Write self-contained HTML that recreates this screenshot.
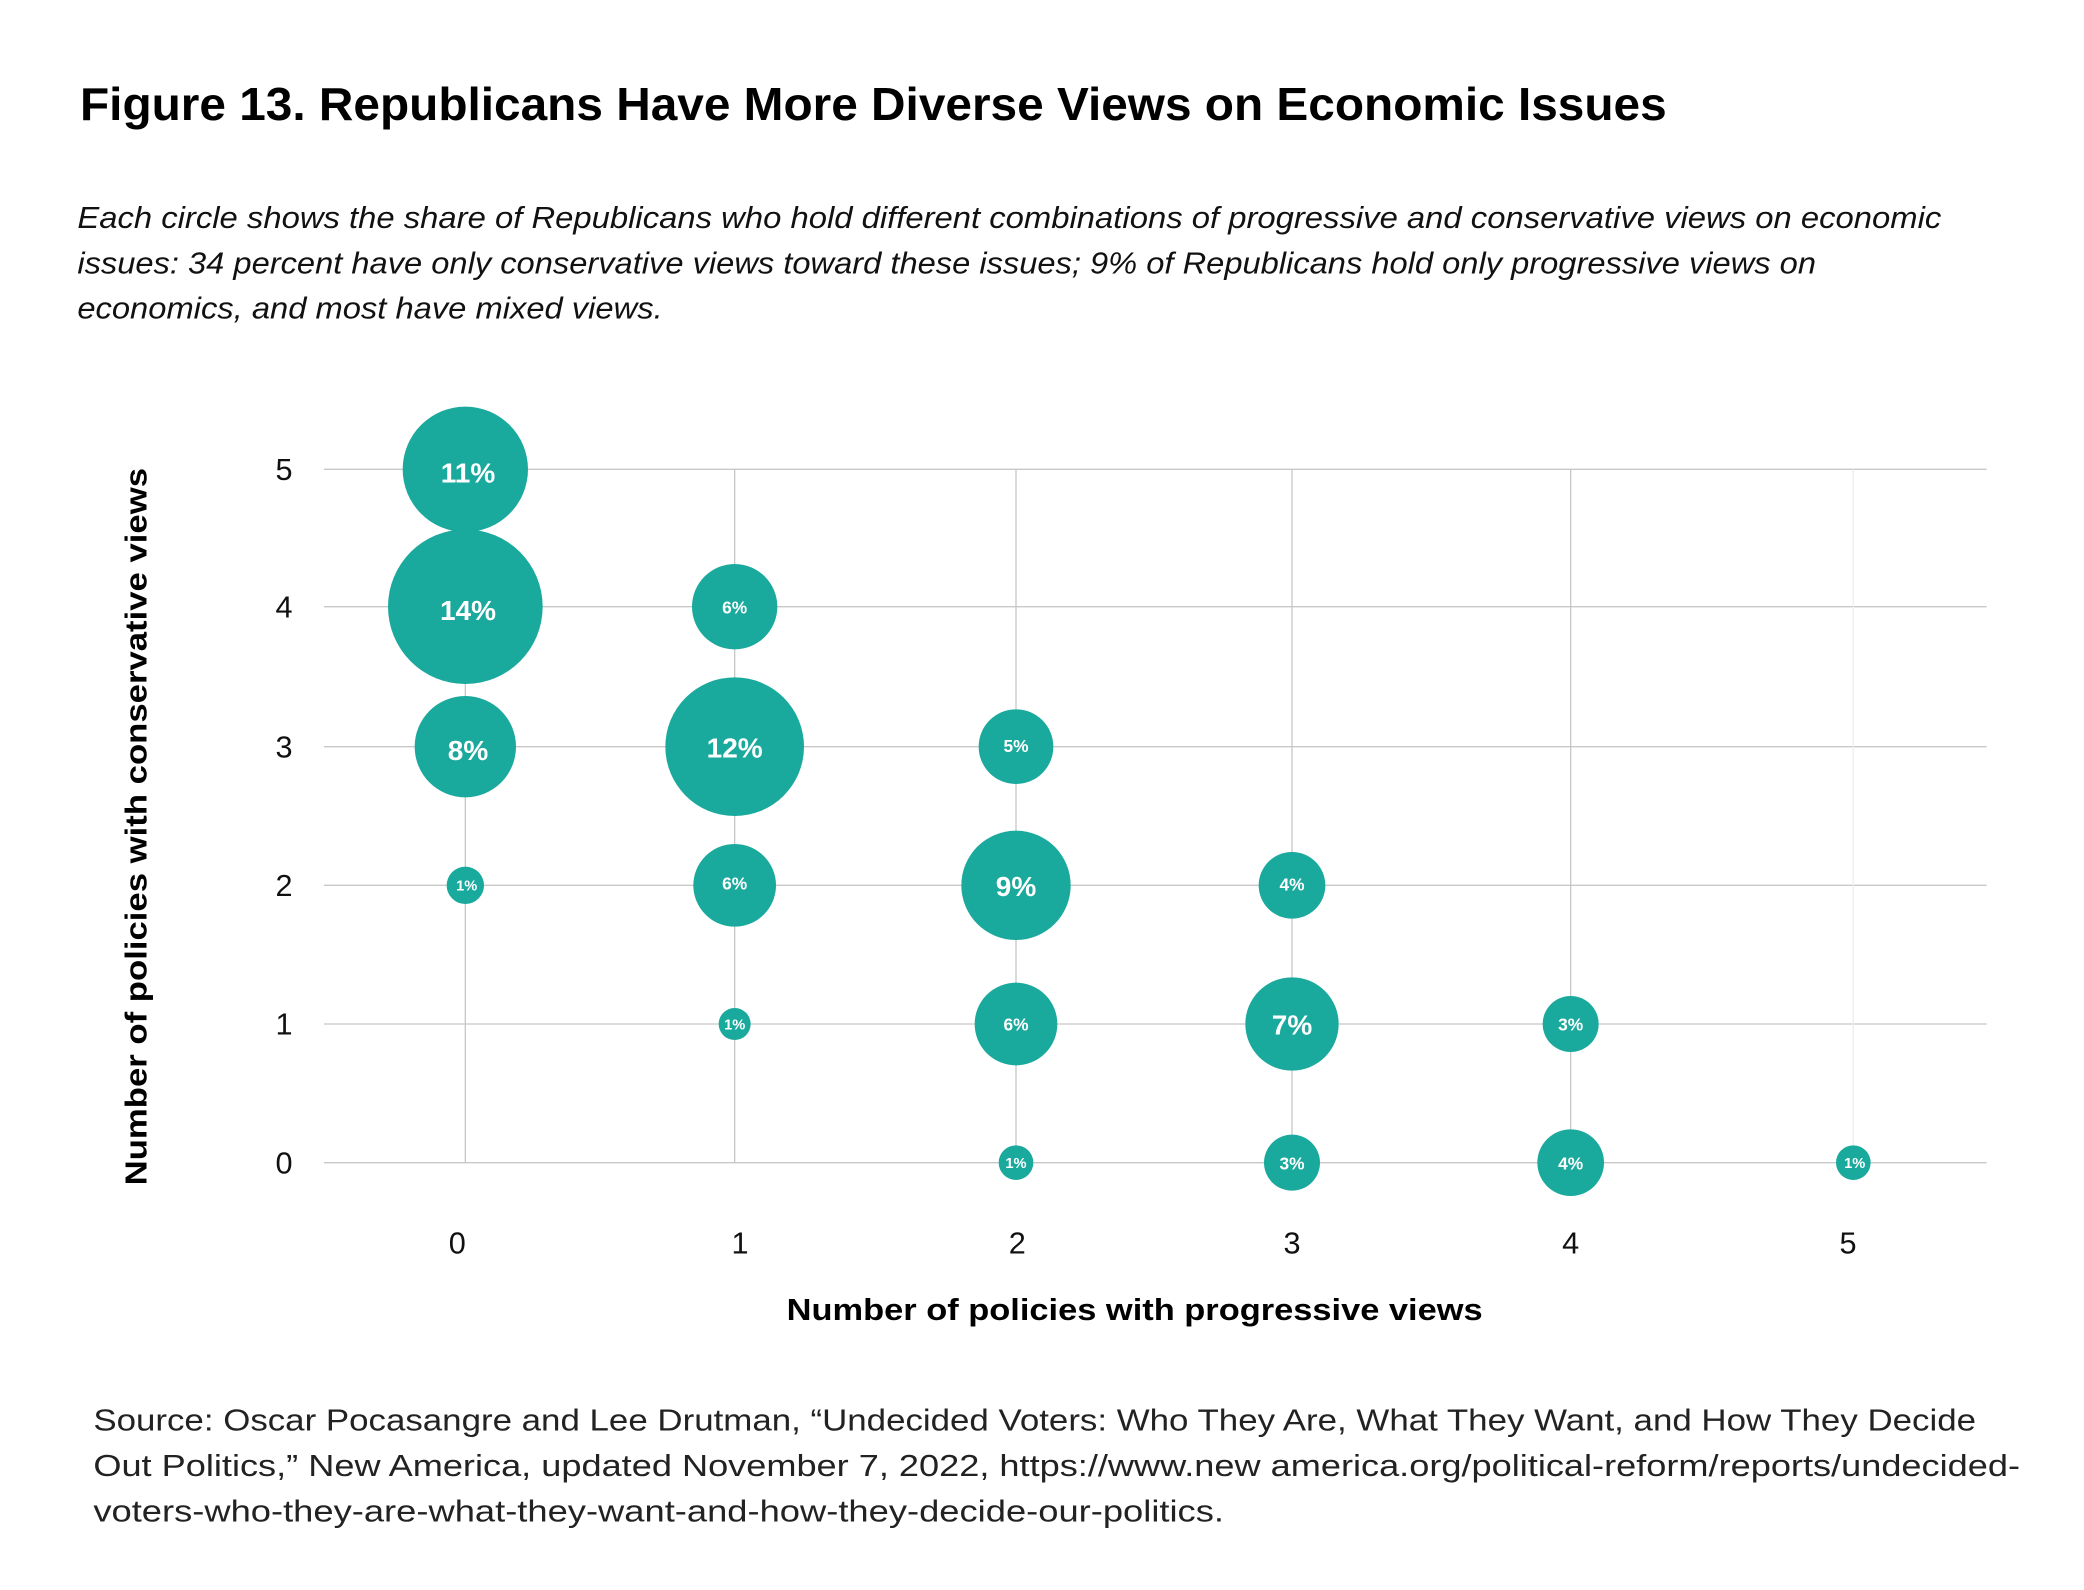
<!DOCTYPE html>
<html><head><meta charset="utf-8"><style>
html,body{margin:0;padding:0;background:#fff}
svg{display:block}
text{font-family:"Liberation Sans",sans-serif}
</style></head><body>
<svg width="2084" height="1590" viewBox="0 0 1563 1192.5" xmlns="http://www.w3.org/2000/svg">
<rect width="1563" height="1192.5" fill="#fff"/>
<text x="60" y="90" font-size="35" font-weight="bold" fill="#000" textLength="1190" lengthAdjust="spacingAndGlyphs">Figure 13. Republicans Have More Diverse Views on Economic Issues</text>
<g font-size="23" font-style="italic" fill="#111">
<text x="58" y="171" textLength="1398" lengthAdjust="spacingAndGlyphs">Each circle shows the share of Republicans who hold different combinations of progressive and conservative views on economic</text>
<text x="58" y="205" textLength="1304" lengthAdjust="spacingAndGlyphs">issues: 34 percent have only conservative views toward these issues; 9% of Republicans hold only progressive views on</text>
<text x="58" y="239" textLength="439" lengthAdjust="spacingAndGlyphs">economics, and most have mixed views.</text>
</g>
<g stroke="#c8c8c8" stroke-width="1">
<line x1="243" y1="352" x2="1490" y2="352"/><line x1="243" y1="455" x2="1490" y2="455"/>
<line x1="243" y1="560" x2="1490" y2="560"/><line x1="243" y1="664" x2="1490" y2="664"/>
<line x1="243" y1="768" x2="1490" y2="768"/><line x1="243" y1="872" x2="1490" y2="872"/>
<line x1="349" y1="352" x2="349" y2="872"/><line x1="551" y1="352" x2="551" y2="872"/>
<line x1="762" y1="352" x2="762" y2="872"/><line x1="969" y1="352" x2="969" y2="872"/>
<line x1="1178" y1="352" x2="1178" y2="872"/><line x1="1390" y1="352" x2="1390" y2="872" stroke="#eee"/>
</g>
<g font-size="23" fill="#111" text-anchor="middle">
<text x="213" y="360">5</text><text x="213" y="463">4</text><text x="213" y="568">3</text>
<text x="213" y="672">2</text><text x="213" y="776">1</text><text x="213" y="880">0</text>
<text x="343" y="940">0</text><text x="555" y="940">1</text><text x="763" y="940">2</text>
<text x="969" y="940">3</text><text x="1178" y="940">4</text><text x="1386" y="940">5</text>
</g>
<text x="851" y="990" font-size="23" font-weight="bold" text-anchor="middle" textLength="522" lengthAdjust="spacingAndGlyphs">Number of policies with progressive views</text>
<text transform="translate(110,620) rotate(-90)" font-size="23" font-weight="bold" text-anchor="middle" textLength="538" lengthAdjust="spacingAndGlyphs">Number of policies with conservative views</text>
<g fill="#1aa99d">
<circle cx="349" cy="352" r="47"/><circle cx="349" cy="455" r="58"/><circle cx="349" cy="560" r="38"/><circle cx="349" cy="664" r="14"/>
<circle cx="551" cy="455" r="32"/><circle cx="551" cy="560" r="52"/><circle cx="551" cy="664" r="31"/><circle cx="551" cy="768" r="12"/>
<circle cx="762" cy="560" r="28"/><circle cx="762" cy="664" r="41"/><circle cx="762" cy="768" r="31"/><circle cx="762" cy="872" r="13"/>
<circle cx="969" cy="664" r="25"/><circle cx="969" cy="768" r="35"/><circle cx="969" cy="872" r="21"/>
<circle cx="1178" cy="768" r="21"/><circle cx="1178" cy="872" r="25"/>
<circle cx="1390" cy="872" r="13"/>
</g>
<g fill="#fff" font-weight="bold" text-anchor="middle">
<g font-size="21"><text x="351" y="362">11%</text><text x="351" y="465">14%</text><text x="351" y="570">8%</text><text x="551" y="568">12%</text><text x="762" y="672">9%</text><text x="969" y="776">7%</text></g>
<g font-size="13"><text x="551" y="460">6%</text><text x="551" y="667">6%</text><text x="762" y="564">5%</text><text x="762" y="773">6%</text><text x="969" y="668">4%</text><text x="1178" y="773">3%</text><text x="1178" y="877">4%</text><text x="969" y="877">3%</text></g>
<g font-size="11"><text x="350" y="668">1%</text><text x="551" y="772">1%</text><text x="762" y="876">1%</text><text x="1391" y="876">1%</text></g>
</g>
<g font-size="23" fill="#222">
<text x="70" y="1073" textLength="1412" lengthAdjust="spacingAndGlyphs">Source: Oscar Pocasangre and Lee Drutman, “Undecided Voters: Who They Are, What They Want, and How They Decide</text>
<text x="70" y="1107" textLength="1445" lengthAdjust="spacingAndGlyphs">Out Politics,” New America, updated November 7, 2022, https://www.new america.org/political-reform/reports/undecided-</text>
<text x="70" y="1141" textLength="848" lengthAdjust="spacingAndGlyphs">voters-who-they-are-what-they-want-and-how-they-decide-our-politics.</text>
</g>
</svg>
</body></html>
